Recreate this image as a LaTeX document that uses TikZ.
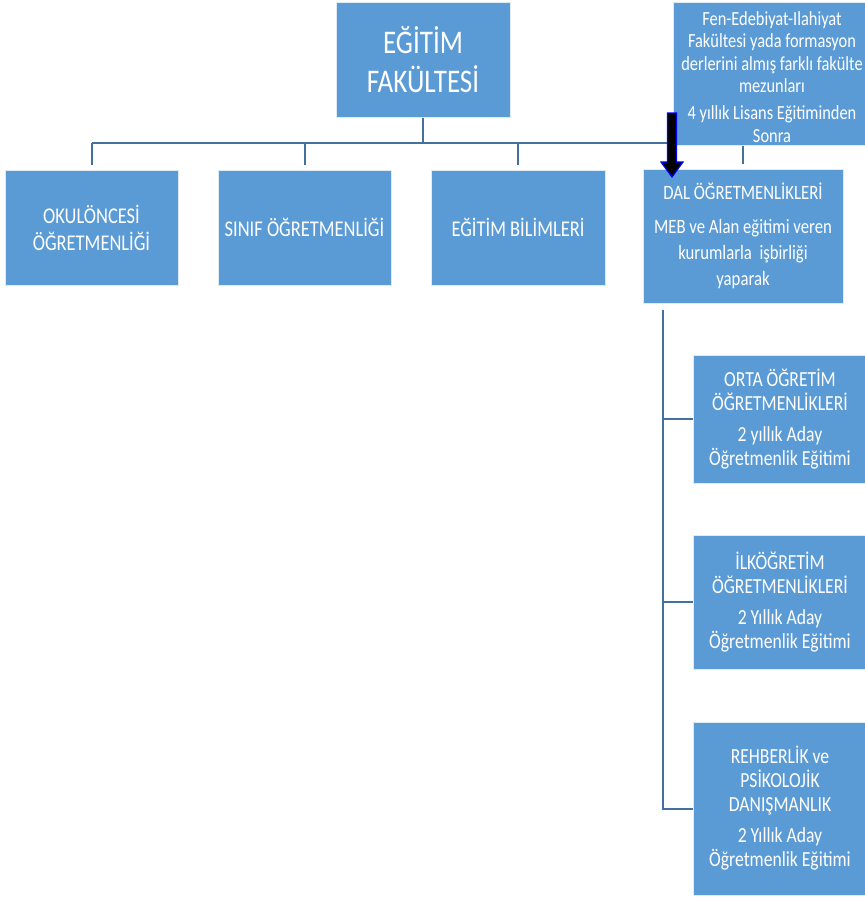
\documentclass[tikz,border=0pt]{standalone}
\usepackage{fontspec}
\setmainfont{Carlito}[FakeStretch=0.82]
\usetikzlibrary{backgrounds,calc}
\definecolor{boxblue}{RGB}{91,155,213}
\definecolor{linkblue}{RGB}{65,113,156}
\begin{document}
\begin{tikzpicture}[x=1pt,y=-1pt,
  box/.style={fill=boxblue, draw=white!80!boxblue, line width=0.6pt, text=white, align=center, inner sep=0pt},
  plaintext/.style={text=white, align=center, inner sep=0pt},
  link/.style={draw=linkblue, line width=2pt},
  bigarrow/.style={fill=black, draw=blue, line width=1.2pt, line join=miter}]
\useasboundingbox (0,0) rectangle (865,898);

\node[box, minimum width=174pt, minimum height=115pt, font=\fontsize{33}{39}\selectfont] (main) at (423,59.5) {EĞİTİM\\FAKÜLTESİ};
\node[box, minimum width=196pt, minimum height=143pt] (fen) at (771,73.5) {};
\node[plaintext, font=\fontsize{20}{22.3}\selectfont] (fentext) at (772,77)
  {Fen-Edebiyat-Ilahiyat\\Fakültesi yada formasyon\\derlerini almış farklı fakülte\\mezunları\\[5pt]4 yıllık Lisans Eğitiminden\\Sonra};

\node[box, minimum width=173pt, minimum height=115pt, font=\fontsize{22.5}{27}\selectfont] (okul) at (91.5,227.5) {OKULÖNCESİ\\ÖĞRETMENLİĞİ};
\node[box, minimum width=173pt, minimum height=115pt, font=\fontsize{22.5}{27}\selectfont] (sinif) at (304.5,227.5) {SINIF ÖĞRETMENLİĞİ};
\node[box, minimum width=174pt, minimum height=115pt, font=\fontsize{22.5}{27}\selectfont] (bilim) at (518,227.5) {EĞİTİM BİLİMLERİ};
\node[box, minimum width=200pt, minimum height=134pt, font=\fontsize{20.4}{26}\selectfont] (dal) at (743,236)
  {DAL ÖĞRETMENLİKLERİ\\[8pt]MEB ve Alan eğitimi veren\\kurumlarla\ \ işbirliği\\yaparak};

\node[box, minimum width=174pt, minimum height=128pt, font=\fontsize{21.5}{24}\selectfont] (orta) at (780,419)
  {ORTA ÖĞRETİM\\ÖĞRETMENLİKLERİ\\[7pt]2 yıllık Aday\\Öğretmenlik Eğitimi};
\node[box, minimum width=174pt, minimum height=134pt, font=\fontsize{21.5}{24}\selectfont] (ilk) at (780,602)
  {İLKÖĞRETİM\\ÖĞRETMENLİKLERİ\\[7pt]2 Yıllık Aday\\Öğretmenlik Eğitimi};
\node[box, minimum width=174pt, minimum height=173pt, font=\fontsize{21.5}{24}\selectfont] (reh) at (780,808.5)
  {REHBERLİK ve\\PSİKOLOJİK\\DANIŞMANLIK\\[7pt]2 Yıllık Aday\\Öğretmenlik Eğitimi};

\begin{pgfonlayer}{background}
  \coordinate (bus) at (423,143);
  \draw[link] ([yshift=-1pt]main.south) -- (main.south |- bus);
  \draw[link] (okul.north |- bus) -- (dal.north |- bus);
  \draw[link] (okul.north |- bus) -- ([yshift=5pt]okul.north);
  \draw[link] (sinif.north |- bus) -- ([yshift=5pt]sinif.north);
  \draw[link] (bilim.north |- bus) -- ([yshift=5pt]bilim.north);
  \draw[link] (dal.north |- bus) -- ([yshift=5pt]dal.north);
  \coordinate (trunk) at (663,310);
  \draw[link] (trunk) |- (reh.west);
  \draw[link] (trunk |- orta.west) -- (orta.west);
  \draw[link] (trunk |- ilk.west) -- (ilk.west);
\end{pgfonlayer}

\coordinate (a1) at (672,113);
\coordinate (a2) at (672,177);
\draw[bigarrow] (a1) ++(-4.5,0) -- ++(9,0) -- ++(0,49) -- ++(6.5,0) -- (a2) -- ++(-11,-15) -- ++(6.5,0) -- cycle;
\end{tikzpicture}
\end{document}
